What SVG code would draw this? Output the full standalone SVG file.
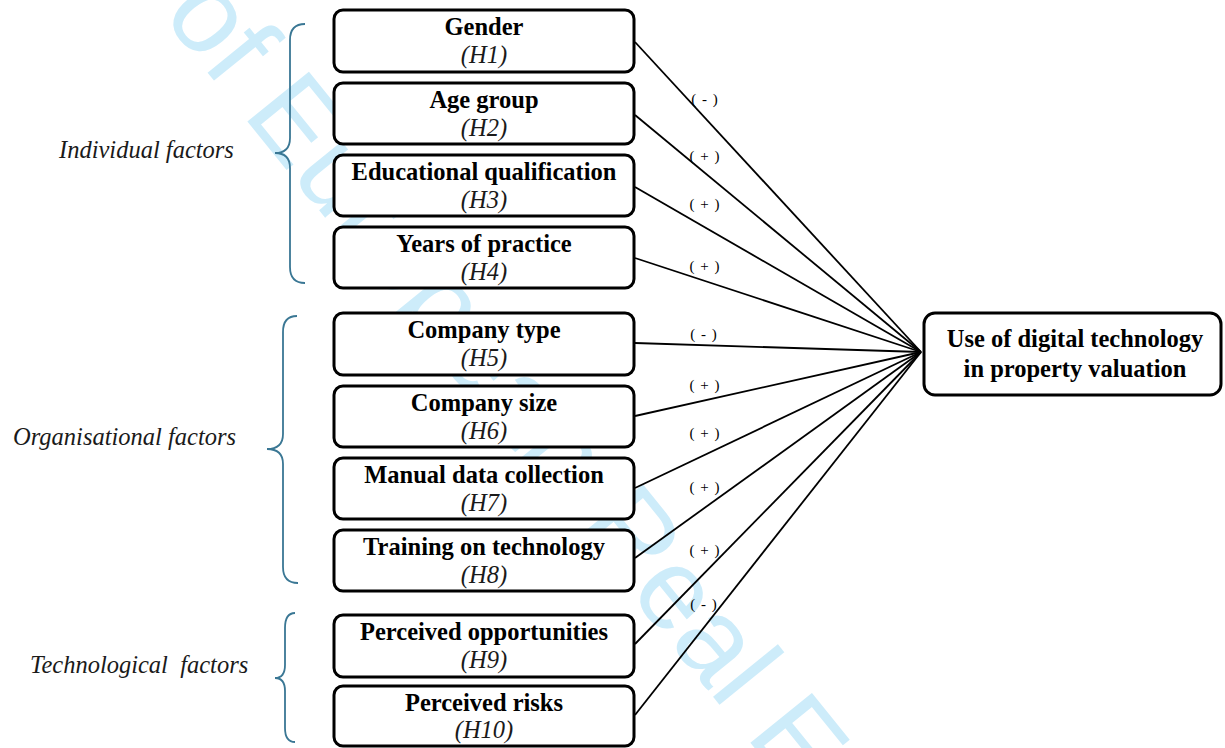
<svg xmlns="http://www.w3.org/2000/svg" width="1225" height="748" viewBox="0 0 1225 748">
<style>
.wm{font-family:"Liberation Sans",Arial,sans-serif;font-size:115px;fill:#cdecfa}
.box{fill:#fff;stroke:#000;stroke-width:3}
.t{font-family:"Liberation Serif","Times New Roman",serif;font-size:24.5px;font-weight:bold;text-anchor:middle;fill:#000}
.h{font-family:"Liberation Serif","Times New Roman",serif;font-size:24.5px;font-style:italic;text-anchor:middle;fill:#1a1a1a}
.lab{font-family:"Liberation Serif","Times New Roman",serif;font-size:24.5px;font-style:italic;fill:#1a1a1a}
.brace{fill:none;stroke:#3a7794;stroke-width:1.8}
.ln{stroke:#000;stroke-width:1.8;fill:none}
.sg{font-family:"Liberation Serif","Times New Roman",serif;font-size:15px;fill:#000;text-anchor:middle;letter-spacing:1px}
</style>
<rect width="1225" height="748" fill="#fff"/>
<g id="watermark">
<text class="wm" transform="translate(161,15) rotate(51)">of European Real Estate</text>
</g>
<g id="braces">
<path class="brace" d="M305,24 Q290,24 290,40 L290,138 Q290,153 275,153 Q290,153 290,168 L290,267 Q290,283 305,283"/>
<path class="brace" d="M297,316 Q283,316 283,332 L283,434 Q283,449 267,449 Q283,449 283,464 L283,567 Q283,583 298,583"/>
<path class="brace" d="M295,613 Q285,613 285,628 L285,665 Q285,678 275,678 Q285,678 285,691 L285,728 Q285,742 295,742"/>
</g>
<g id="group-labels">
<text class="lab" x="59" y="158">Individual factors</text>
<text class="lab" x="13" y="445">Organisational factors</text>
<text class="lab" x="30" y="673" xml:space="preserve">Technological  factors</text>
</g>
<g id="connectors">
<line class="ln" x1="635" y1="42" x2="921" y2="352"/>
<line class="ln" x1="635" y1="115" x2="921" y2="352"/>
<line class="ln" x1="635" y1="187" x2="921" y2="352"/>
<line class="ln" x1="635" y1="258" x2="921" y2="352"/>
<line class="ln" x1="635" y1="343" x2="921" y2="352"/>
<line class="ln" x1="635" y1="416" x2="921" y2="352"/>
<line class="ln" x1="635" y1="488" x2="921" y2="352"/>
<line class="ln" x1="635" y1="558" x2="921" y2="352"/>
<line class="ln" x1="635" y1="644" x2="921" y2="352"/>
<line class="ln" x1="635" y1="715" x2="921" y2="352"/>
<text class="sg" x="705" y="104">( - )</text>
<text class="sg" x="705" y="161">( + )</text>
<text class="sg" x="705" y="209">( + )</text>
<text class="sg" x="705" y="271">( + )</text>
<text class="sg" x="704" y="339">( - )</text>
<text class="sg" x="705" y="390">( + )</text>
<text class="sg" x="705" y="438">( + )</text>
<text class="sg" x="705" y="492">( + )</text>
<text class="sg" x="705" y="555">( + )</text>
<text class="sg" x="704" y="609">( - )</text>
</g>
<g id="n1"><rect class="box" x="334" y="10" width="300" height="62" rx="9"/><text class="t" x="484" y="35">Gender</text><text class="h" x="484" y="63">(H1)</text></g>
<g id="n2"><rect class="box" x="334" y="83" width="300" height="61" rx="9"/><text class="t" x="484" y="108">Age group</text><text class="h" x="484" y="136">(H2)</text></g>
<g id="n3"><rect class="box" x="334" y="155" width="300" height="61" rx="9"/><text class="t" x="484" y="180">Educational qualification</text><text class="h" x="484" y="208">(H3)</text></g>
<g id="n4"><rect class="box" x="334" y="227" width="300" height="61" rx="9"/><text class="t" x="484" y="252">Years of practice</text><text class="h" x="484" y="280">(H4)</text></g>
<g id="n5"><rect class="box" x="334" y="313" width="300" height="62" rx="9"/><text class="t" x="484" y="338">Company type</text><text class="h" x="484" y="366">(H5)</text></g>
<g id="n6"><rect class="box" x="334" y="386" width="300" height="61" rx="9"/><text class="t" x="484" y="411">Company size</text><text class="h" x="484" y="439">(H6)</text></g>
<g id="n7"><rect class="box" x="334" y="458" width="300" height="61" rx="9"/><text class="t" x="484" y="483">Manual data collection</text><text class="h" x="484" y="511">(H7)</text></g>
<g id="n8"><rect class="box" x="334" y="530" width="300" height="61" rx="9"/><text class="t" x="484" y="555">Training on technology</text><text class="h" x="484" y="583">(H8)</text></g>
<g id="n9"><rect class="box" x="334" y="615" width="300" height="62" rx="9"/><text class="t" x="484" y="640">Perceived opportunities</text><text class="h" x="484" y="668">(H9)</text></g>
<g id="n10"><rect class="box" x="334" y="686" width="300" height="60" rx="9"/><text class="t" x="484" y="711">Perceived risks</text><text class="h" x="484" y="738">(H10)</text></g>
<g id="target"><rect class="box" x="924" y="313" width="297" height="82" rx="11"/><text class="t" x="1075" y="347">Use of digital technology</text><text class="t" x="1075" y="377">in property valuation</text></g>
</svg>
